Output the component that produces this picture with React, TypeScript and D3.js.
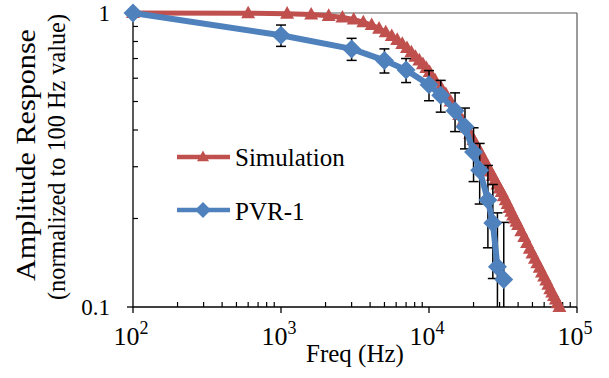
import React from 'react';
import * as d3 from 'd3';

// Simulation series (Hz, normalized amplitude)
const simFreq = [100, 600, 1100, 1600, 2100, 2600, 3100, 3600, 4100, 4600, 5100, 5600, 6100, 6600, 7100, 7600, 8100, 8600, 9100, 9600, 10100,
  11000, 12000, 13000, 14000, 15000, 16000, 17000, 18000, 19000, 20000, 21000, 22000, 23000, 24000, 25000, 26000, 27000, 28000, 29000, 30000,
  31000, 32000, 33000, 34000, 35000, 36000, 37000, 38000, 39000, 40000, 42000, 44000, 46000, 48000, 50000, 52000, 54000, 56000, 58000, 60000,
  62000, 64000, 66000, 68000, 70000, 72000, 74000, 76000];
const simAmp = [1, 0.998, 0.995, 0.988, 0.978, 0.965, 0.95, 0.93, 0.91, 0.885, 0.86, 0.835, 0.81, 0.785, 0.76, 0.735, 0.71, 0.69, 0.67, 0.65, 0.63,
  0.59, 0.56, 0.53, 0.5, 0.475, 0.45, 0.428, 0.407, 0.388, 0.37, 0.354, 0.339, 0.325, 0.312, 0.3, 0.289, 0.279, 0.27, 0.261, 0.253,
  0.246, 0.238, 0.231, 0.224, 0.217, 0.211, 0.205, 0.2, 0.195, 0.19, 0.181, 0.173, 0.165, 0.158, 0.152, 0.146, 0.141, 0.136, 0.131, 0.127,
  0.123, 0.119, 0.115, 0.112, 0.109, 0.106, 0.103, 0.1];

// PVR-1 measured series
const pvrFreq = [100, 1000, 3000, 5000, 7000, 10000, 12000, 15000, 17500, 20000, 22000, 25000, 27000, 29000, 32000];
const pvrAmp = [1, 0.84, 0.755, 0.69, 0.64, 0.57, 0.525, 0.465, 0.41, 0.337, 0.292, 0.231, 0.193, 0.137, 0.124];
const pvrErr = [0, 0.07, 0.065, 0.065, 0.06, 0.067, 0.065, 0.07, 0.065, 0.07, 0.068, 0.072, 0.068, 0.072, 0.07];

const xMajor = [100, 1000, 10000, 100000];
const xMajorExp = ['2', '3', '4', '5'];
const yMajor = [1, 0.1];
const yMajorLabels = ['1', '0.1'];
const seriesNames = ['Simulation', 'PVR-1'];

const RED = '#C0504D';
const BLUE = '#4F81BD';
const FONT = 'Liberation Serif, Times New Roman, Times, serif';
const tf = { fontFamily: FONT };

const left = 133, right = 577, top = 13, bottom = 307;

function tri(cx: number, cy: number, s: number) {
  const h = s * 0.9;
  return `M${cx},${cy - h * 0.6}L${cx + s / 2},${cy + h * 0.4}L${cx - s / 2},${cy + h * 0.4}Z`;
}
function dia(cx: number, cy: number, r: number) {
  return `M${cx},${cy - r}L${cx + r},${cy}L${cx},${cy + r}L${cx - r},${cy}Z`;
}

export default function App() {
  const x = d3.scaleLog().domain([100, 100000]).range([left, right]);
  const y = d3.scaleLog().domain([0.1, 1]).range([bottom, top]);
  const line = d3.line<[number, number]>().x(d => x(d[0])).y(d => y(d[1]));
  const simPts: [number, number][] = simFreq.map((f, i) => [f, simAmp[i]]);
  const pvrPts: [number, number][] = pvrFreq.map((f, i) => [f, pvrAmp[i]]);
  const xMinor = x.ticks().filter(t => !xMajor.some(m => Math.abs(m - t) < 1e-6));
  const yMinor = y.ticks().filter(t => !yMajor.some(m => Math.abs(m - t) < 1e-9));

  return (
    <svg width={609} height={378} style={{ position: 'absolute', left: 0, top: 0, background: '#fff' }}>
      <defs>
        <clipPath id="plotclip">
          <rect x={left} y={top} width={right - left} height={bottom - top} />
        </clipPath>
      </defs>
      <rect x={0} y={0} width={609} height={378} fill="#fff" />
      {/* frame */}
      <line x1={left} x2={right} y1={top} y2={top} stroke="#595959" strokeWidth={1.2} />
      <line x1={right} x2={right} y1={top} y2={bottom} stroke="#595959" strokeWidth={1.2} />
      <line x1={left} x2={left} y1={top} y2={bottom} stroke="#000" strokeWidth={1.3} />
      <line x1={left} x2={right} y1={bottom} y2={bottom} stroke="#000" strokeWidth={1.3} />
      {/* x ticks */}
      {xMajor.map(t => (
        <line key={'xm' + t} x1={x(t)} x2={x(t)} y1={bottom} y2={bottom + 6} stroke="#000" strokeWidth={1.3} />
      ))}
      {xMinor.map(t => (
        <line key={'xn' + t} x1={x(t)} x2={x(t)} y1={bottom} y2={bottom - 5} stroke="#000" strokeWidth={1.2} />
      ))}
      {yMajor.map(t => (
        <line key={'ym' + t} x1={left - 6} x2={left} y1={y(t)} y2={y(t)} stroke="#000" strokeWidth={1.3} />
      ))}
      {yMinor.map(t => (
        <line key={'yn' + t} x1={left} x2={left + 5} y1={y(t)} y2={y(t)} stroke="#000" strokeWidth={1.2} />
      ))}
      {/* tick labels */}
      {xMajor.map((t, i) => (
        <text key={'xl' + t} x={x(t) - 2} y={345} textAnchor="middle" fontSize={26} fill="#000" style={tf}>
          10<tspan fontSize={18} dy={-11}>{xMajorExp[i]}</tspan>
        </text>
      ))}
      {yMajor.map((t, i) => (
        <text key={'yl' + t} x={110} y={y(t) + 8} textAnchor="end" fontSize={23} fill="#000" style={tf}>{yMajorLabels[i]}</text>
      ))}
      {/* axis titles */}
      <text x={355} y={362} textAnchor="middle" fontSize={25} fill="#000" style={tf}>Freq (Hz)</text>
      <text transform={`translate(35,155) rotate(-90)`} textAnchor="middle" fontSize={27} fill="#000" style={tf}
        textLength={252} lengthAdjust="spacingAndGlyphs">Amplitude Response</text>
      <text transform={`translate(65,157) rotate(-90)`} textAnchor="middle" fontSize={25} fill="#000" style={tf}
        textLength={286} lengthAdjust="spacingAndGlyphs">(normalized to 100 Hz value)</text>

      {/* Simulation */}
      <path d={line(simPts) || ''} fill="none" stroke={RED} strokeWidth={5} strokeLinejoin="round" />
      {simPts.map((p, i) => (
        <path key={'s' + i} d={tri(x(p[0]), y(p[1]), 14)} fill={RED} />
      ))}

      {/* PVR-1 error bars */}
      <g clipPath="url(#plotclip)" stroke="#000" strokeWidth={1.5}>
        {pvrPts.map((p, i) => pvrErr[i] > 0 ? (
          <g key={'e' + i}>
            <line x1={x(p[0])} x2={x(p[0])} y1={y(p[1] + pvrErr[i])} y2={y(Math.max(p[1] - pvrErr[i], 0.05))} />
            <line x1={x(p[0]) - 5} x2={x(p[0]) + 5} y1={y(p[1] + pvrErr[i])} y2={y(p[1] + pvrErr[i])} />
            <line x1={x(p[0]) - 5} x2={x(p[0]) + 5} y1={y(Math.max(p[1] - pvrErr[i], 0.05))} y2={y(Math.max(p[1] - pvrErr[i], 0.05))} />
          </g>
        ) : null)}
      </g>

      {/* PVR-1 */}
      <path d={line(pvrPts) || ''} fill="none" stroke={BLUE} strokeWidth={6} strokeLinejoin="round" />
      {pvrPts.map((p, i) => (
        <path key={'p' + i} d={dia(x(p[0]), y(p[1]), 9.5)} fill={BLUE} />
      ))}

      {/* legend */}
      <line x1={177} x2={230} y1={157} y2={157} stroke={RED} strokeWidth={4.5} />
      <path d={tri(203, 157, 12)} fill={RED} />
      <text x={235} y={166} fontSize={25} fill="#000" style={tf}>{seriesNames[0]}</text>
      <line x1={177} x2={230} y1={210} y2={210} stroke={BLUE} strokeWidth={4.5} />
      <path d={dia(203, 210, 8)} fill={BLUE} />
      <text x={235} y={220} fontSize={25} fill="#000" style={tf}>{seriesNames[1]}</text>
    </svg>
  );
}
